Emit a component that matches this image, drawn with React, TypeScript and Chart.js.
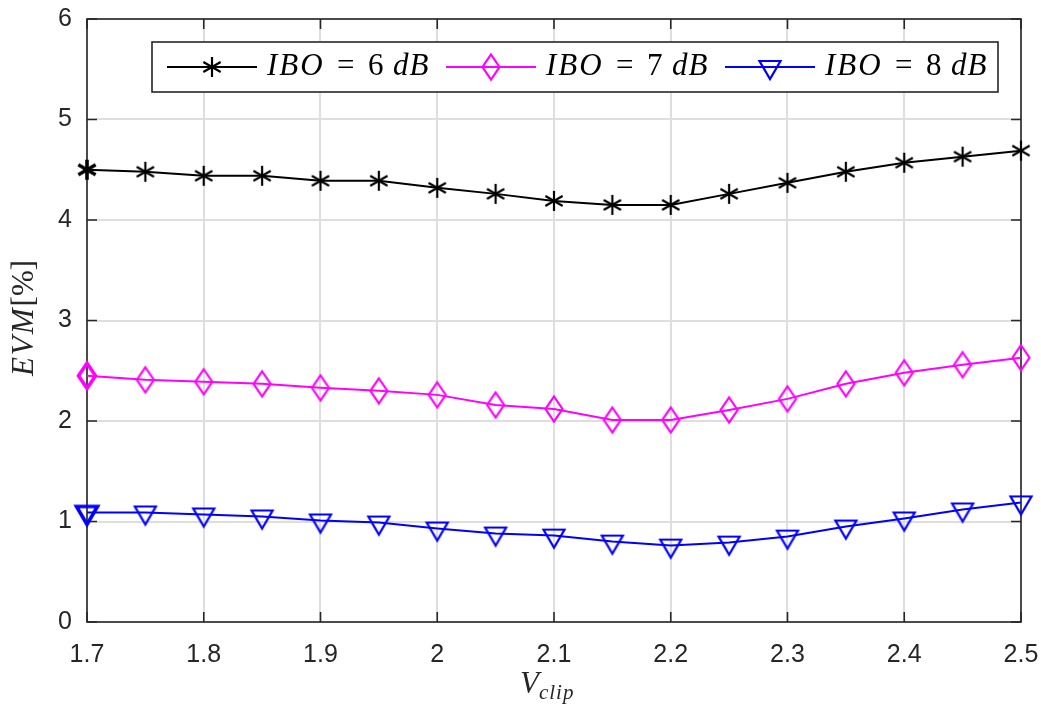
import { useEffect, useRef } from 'react';
import { Chart, registerables } from 'chart.js';

Chart.register(...registerables);

const vclip = [1.7, 1.75, 1.8, 1.85, 1.9, 1.95, 2.0, 2.05, 2.1, 2.15, 2.2, 2.25, 2.3, 2.35, 2.4, 2.45, 2.5];
const evmIbo6 = [4.5, 4.48, 4.44, 4.44, 4.39, 4.39, 4.32, 4.26, 4.19, 4.15, 4.15, 4.26, 4.37, 4.48, 4.57, 4.63, 4.69];
const evmIbo7 = [2.45, 2.41, 2.39, 2.37, 2.33, 2.3, 2.26, 2.16, 2.12, 2.01, 2.01, 2.11, 2.22, 2.37, 2.48, 2.56, 2.63];
const evmIbo8 = [1.09, 1.09, 1.07, 1.05, 1.01, 0.99, 0.93, 0.88, 0.86, 0.8, 0.76, 0.79, 0.85, 0.95, 1.03, 1.12, 1.19];
const seriesLabels = ['6', '7', '8'];
const xTicks = [1.7, 1.8, 1.9, 2.0, 2.1, 2.2, 2.3, 2.4, 2.5];
const yTicks = [0, 1, 2, 3, 4, 5, 6];

const AXIS = '#262626';
const SERIF = '"Liberation Serif", "Times New Roman", serif';
const SANS = '"Liberation Sans", Arial, Helvetica, sans-serif';

function makeMarker(kind: string, color: string, lw: number): HTMLCanvasElement {
  const c = document.createElement('canvas');
  c.width = 32;
  c.height = 32;
  const g = c.getContext('2d')!;
  const cx = 16, cy = 16;
  g.strokeStyle = color;
  g.lineWidth = lw;
  g.lineJoin = 'miter';
  g.beginPath();
  if (kind === 'star') {
    const r = 10;
    for (const a of [90, 30, 150]) {
      const rad = (a * Math.PI) / 180;
      g.moveTo(cx - r * Math.cos(rad), cy - r * Math.sin(rad));
      g.lineTo(cx + r * Math.cos(rad), cy + r * Math.sin(rad));
    }
  } else if (kind === 'diamond') {
    g.moveTo(cx, cy - 12.5);
    g.lineTo(cx + 8.5, cy);
    g.lineTo(cx, cy + 12.5);
    g.lineTo(cx - 8.5, cy);
    g.closePath();
  } else {
    g.moveTo(cx - 10.5, cy - 6);
    g.lineTo(cx + 10.5, cy - 6);
    g.lineTo(cx, cy + 12);
    g.closePath();
  }
  g.stroke();
  return c;
}

export default function App() {
  const ref = useRef<HTMLCanvasElement | null>(null);

  useEffect(() => {
    document.body.style.margin = '0';
    const canvas = ref.current!;

    const specs = [
      { data: evmIbo6, color: '#000000', kind: 'star' },
      { data: evmIbo7, color: '#ff00ff', kind: 'diamond' },
      { data: evmIbo8, color: '#0000ff', kind: 'tri' },
    ];
    const markers = specs.map((s) => makeMarker(s.kind, s.color, 2.2));
    const boldMarkers = specs.map((s) => makeMarker(s.kind, s.color, 3.6));

    const framePlugin = {
      id: 'frame',
      beforeDatasetsDraw(chart: any) {
        const { ctx, chartArea } = chart;
        const { left, right, top, bottom } = chartArea;
        const xs = chart.scales.x;
        const ys = chart.scales.y;
        ctx.save();
        ctx.strokeStyle = AXIS;
        ctx.lineWidth = 1.6;
        const tl = 10;
        ctx.beginPath();
        for (const v of xTicks) {
          const px = xs.getPixelForValue(v);
          ctx.moveTo(px, bottom);
          ctx.lineTo(px, bottom - tl);
          ctx.moveTo(px, top);
          ctx.lineTo(px, top + tl);
        }
        for (const v of yTicks) {
          const py = ys.getPixelForValue(v);
          ctx.moveTo(left, py);
          ctx.lineTo(left + tl, py);
          ctx.moveTo(right, py);
          ctx.lineTo(right - tl, py);
        }
        ctx.stroke();
        ctx.strokeRect(left, top, right - left, bottom - top);
        ctx.restore();
      },
    };

    const textPlugin = {
      id: 'texts',
      afterDraw(chart: any) {
        const { ctx } = chart;
        ctx.save();
        // Legend box
        ctx.fillStyle = '#ffffff';
        ctx.fillRect(152, 42, 846, 50);
        ctx.strokeStyle = AXIS;
        ctx.lineWidth = 1.6;
        ctx.strokeRect(152, 42, 846, 50);
        const lineStarts = [167, 446, 725];
        const textStarts = [267, 546, 825];
        specs.forEach((s, i) => {
          const ly = 67;
          ctx.strokeStyle = s.color;
          ctx.lineWidth = 2;
          ctx.beginPath();
          ctx.moveTo(lineStarts[i], ly);
          ctx.lineTo(lineStarts[i] + 90, ly);
          ctx.stroke();
          const m = markers[i];
          ctx.drawImage(m, lineStarts[i] + 45 - m.width / 2, ly - m.height / 2);
          const tx = textStarts[i];
          const by = 75;
          ctx.fillStyle = '#000000';
          ctx.textBaseline = 'alphabetic';
          ctx.textAlign = 'left';
          ctx.font = `italic 31px ${SERIF}`;
          (ctx as any).letterSpacing = '2px';
          ctx.fillText('IBO', tx, by);
          (ctx as any).letterSpacing = '0px';
          ctx.font = `31px ${SERIF}`;
          ctx.fillText('=', tx + 70, by);
          ctx.fillText(seriesLabels[i], tx + 101, by);
          ctx.font = `italic 31px ${SERIF}`;
          (ctx as any).letterSpacing = '1px';
          ctx.fillText('dB', tx + 126, by);
          (ctx as any).letterSpacing = '0px';
        });

        // Y axis title
        ctx.save();
        ctx.translate(33, 318);
        ctx.rotate(-Math.PI / 2);
        ctx.fillStyle = AXIS;
        ctx.font = `italic 31px ${SERIF}`;
        const w1 = ctx.measureText('EVM').width + 6;
        ctx.font = `31px ${SERIF}`;
        const w2 = ctx.measureText('[%]').width;
        const start = -(w1 + w2) / 2;
        ctx.textAlign = 'left';
        ctx.textBaseline = 'alphabetic';
        ctx.font = `italic 31px ${SERIF}`;
        (ctx as any).letterSpacing = '2px';
        ctx.fillText('EVM', start, 0);
        (ctx as any).letterSpacing = '0px';
        ctx.font = `31px ${SERIF}`;
        ctx.fillText('[%]', start + w1, 0);
        ctx.restore();

        // X axis title
        ctx.fillStyle = AXIS;
        ctx.textAlign = 'left';
        ctx.textBaseline = 'alphabetic';
        ctx.font = `italic 31px ${SERIF}`;
        ctx.fillText('V', 520, 693);
        const vw = ctx.measureText('V').width;
        ctx.font = `italic 21px ${SERIF}`;
        (ctx as any).letterSpacing = '1px';
        ctx.fillText('clip', 520 + vw, 699);
        (ctx as any).letterSpacing = '0px';
        ctx.restore();
      },
    };

    const chart = new Chart(canvas, {
      type: 'line',
      data: {
        datasets: specs.map((s, i) => ({
          label: `IBO = ${seriesLabels[i]} dB`,
          data: vclip.map((x, j) => ({ x, y: s.data[j] })),
          borderColor: s.color,
          backgroundColor: s.color,
          borderWidth: 2,
          pointStyle: vclip.map((_, j) => (j === 0 ? boldMarkers[i] : markers[i])) as any,
          pointRadius: 10,
          tension: 0,
          clip: false as any,
        })),
      },
      options: {
        responsive: false,
        animation: false,
        layout: { padding: { top: 19, right: 20, left: 0, bottom: 0 } },
        plugins: {
          legend: { display: false },
          tooltip: { enabled: false },
        },
        scales: {
          x: {
            type: 'linear',
            min: 1.7,
            max: 2.5,
            afterBuildTicks: (scale: any) => {
              scale.ticks = xTicks.map((value) => ({ value }));
            },
            afterFit: (scale: any) => {
              scale.height = 91;
              scale.paddingLeft = 0;
              scale.paddingRight = 0;
            },
            grid: { color: '#dedede', lineWidth: 2, drawTicks: false },
            border: { display: false },
            ticks: {
              color: AXIS,
              padding: 18,
              maxRotation: 0,
              autoSkip: false,
              font: { family: SANS, size: 25 },
              callback: (v: any) => String(Number(Number(v).toFixed(1))),
            },
          },
          y: {
            type: 'linear',
            min: 0,
            max: 6,
            afterBuildTicks: (scale: any) => {
              scale.ticks = yTicks.map((value) => ({ value }));
            },
            afterFit: (scale: any) => {
              scale.width = 87;
              scale.paddingTop = 0;
              scale.paddingBottom = 0;
            },
            grid: { color: '#dedede', lineWidth: 2, drawTicks: false },
            border: { display: false },
            ticks: {
              color: AXIS,
              padding: 15,
              font: { family: SANS, size: 25 },
              callback: (v: any) => String(v),
            },
          },
        },
      },
      plugins: [framePlugin, textPlugin],
    });

    return () => chart.destroy();
  }, []);

  return <canvas ref={ref} width={1041} height={713} style={{ display: 'block' }} />;
}
